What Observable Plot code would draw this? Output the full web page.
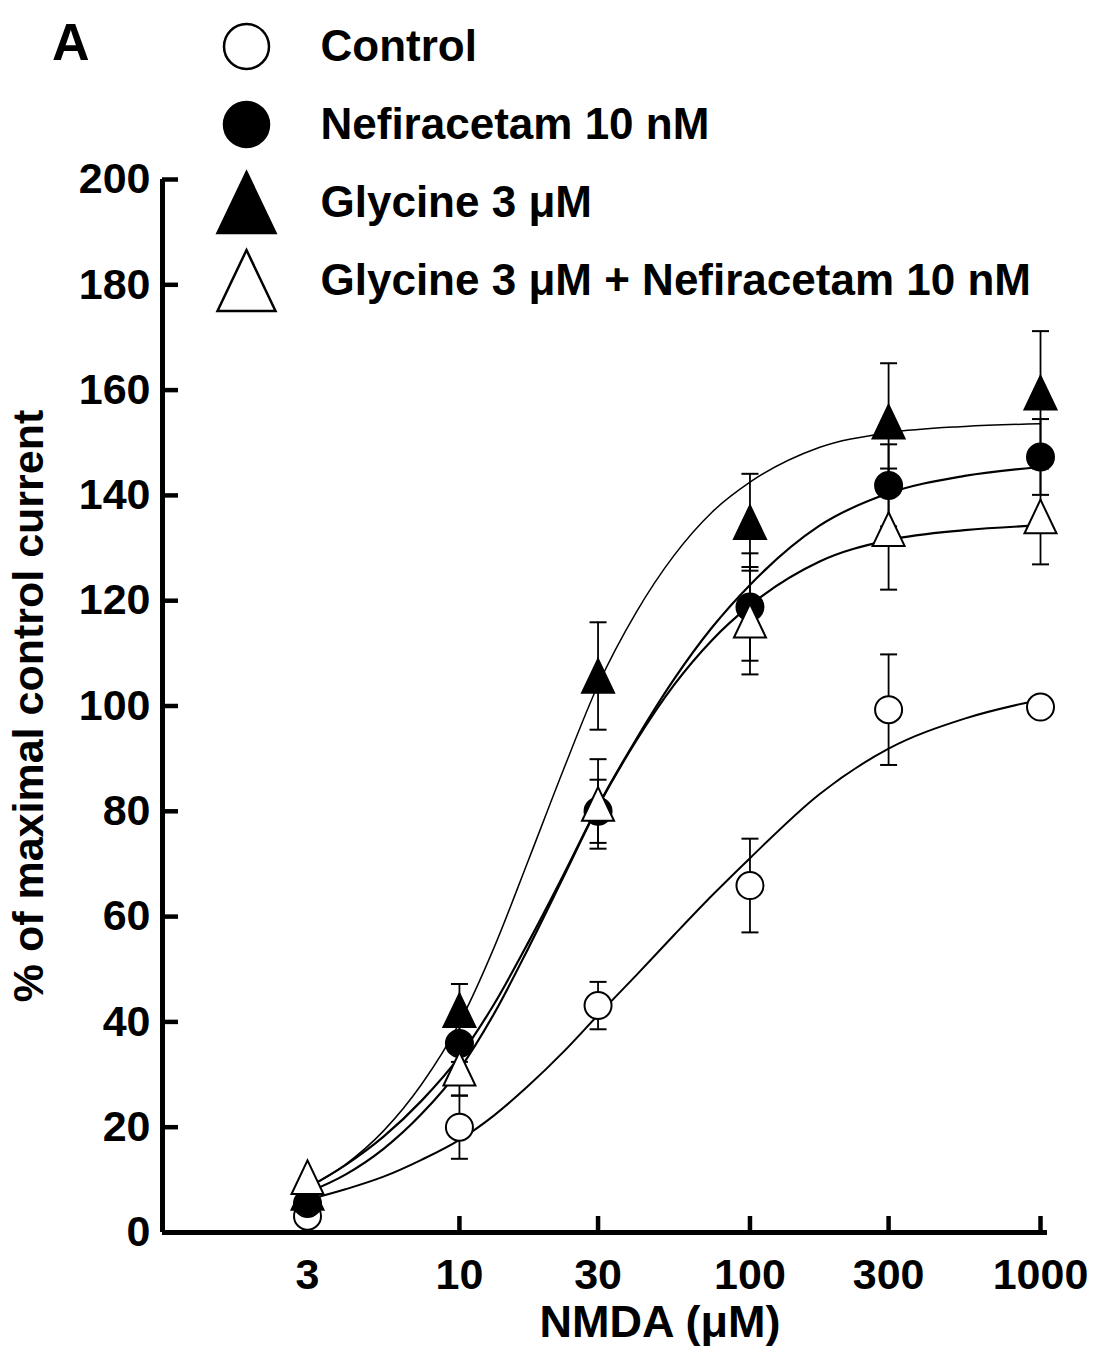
<!DOCTYPE html>
<html><head><meta charset="utf-8">
<script src="https://cdn.jsdelivr.net/npm/d3@7"></script>
<script src="https://cdn.jsdelivr.net/npm/@observablehq/plot@0.6"></script>
<style>
body{margin:0;background:#fff;}
#wrap{position:relative;width:1100px;height:1359px;overflow:hidden;font-family:"Liberation Sans",Arial,Helvetica,sans-serif;}
#panel{position:absolute;left:52px;top:16px;font-size:52px;font-weight:bold;line-height:1;color:#000;}
#legend{position:absolute;left:0;top:0;}
</style></head><body>
<div id="wrap"><div id="chart"></div><div id="legend"></div><div id="panel">A</div></div>
<script>
// ---- data ----
const conc = [3, 10, 30, 100, 300, 1000];
const seriesNames = ["Control", "Nefiracetam 10 nM", "Glycine 3 μM", "Glycine 3 μM + Nefiracetam 10 nM"];
const controlMean = [3.1, 20.0, 43.1, 65.9, 99.3, 99.8];
const controlErr  = [null, 6.0, 4.5, 8.9, 10.5, null];
const nefMean     = [5.5, 35.9, 80.0, 118.8, 141.9, 147.3];
const nefErr      = [null, 3.5, 6.0, 10.2, 7.8, 7.2];
const glyMean     = [7.5, 42.2, 105.7, 134.9, 154.0, 159.5];
const glyErr      = [null, 5.0, 10.2, 9.2, 11.1, 11.7];
const glyNefMean  = [10.5, 31.1, 81.4, 116.2, 133.6, 136.0];
const glyNefErr   = [null, 5.1, 8.5, 10.2, 11.5, 9.1];

// fitted curves
const fitConc    = [3, 4.05, 5.48, 7.4, 10, 13.2, 17.3, 22.8, 30, 40.5, 54.8, 74, 100, 173, 300, 548, 1000];
const controlFit = [6.2, 8.2, 10.6, 13.8, 17.6, 22.3, 27.9, 34.3, 41.3, 48.8, 56.5, 64.0, 71.1, 83.2, 91.9, 97.6, 101.2];
const nefFit     = [8.5, 12.8, 18.2, 25.0, 33.4, 43.5, 55.2, 67.9, 81.0, 93.6, 105.1, 114.9, 123.0, 134.2, 140.4, 143.7, 145.4];
const glyFit     = [8.5, 12.9, 19.3, 28.1, 39.8, 54.3, 70.8, 87.9, 104.0, 117.7, 128.6, 136.8, 142.5, 149.1, 151.9, 153.1, 153.6];
const glyNefFit  = [7.6, 11.0, 15.9, 22.5, 31.0, 41.7, 54.1, 67.5, 80.9, 93.3, 104.0, 112.5, 119.1, 127.4, 131.5, 133.4, 134.3];

const xTicks = [3, 10, 30, 100, 300, 1000];
const yTicks = [0, 20, 40, 60, 80, 100, 120, 140, 160, 180, 200];
const xLabel = "NMDA (μM)";
const yLabel = "% of maximal control current";

// ---- symbols ----
const tri = {draw(ctx, size) { const r = Math.sqrt(size / Math.PI); const h = r * 1.05; ctx.moveTo(0, -h); ctx.lineTo(r, h); ctx.lineTo(-r, h); ctx.closePath(); }};
const cap = {draw(ctx, size) { const r = Math.sqrt(size / Math.PI); ctx.moveTo(-r, 0); ctx.lineTo(r, 0); }};

const means = [controlMean, nefMean, glyMean, glyNefMean];
const errs = [controlErr, nefErr, glyErr, glyNefErr];
const fits = [controlFit, nefFit, glyFit, glyNefFit];
const styles = [
  {symbol: "circle", fill: "white", r: 13.5, lr: 22.5},
  {symbol: "circle", fill: "black", r: 13.5, lr: 22.5},
  {symbol: tri, fill: "black", r: 16, lr: 29},
  {symbol: tri, fill: "white", r: 16, lr: 29}
];
const fitWidth = [2, 2.2, 1.5, 2.2];

const points = seriesNames.flatMap((s, i) => conc.map((c, j) => ({series: s, i, x: c, y: means[i][j], e: errs[i][j]})));
const errRows = points.filter(d => d.e != null);
const capRows = errRows.flatMap(d => [{x: d.x, y: d.y - d.e}, {x: d.x, y: d.y + d.e}]);
const curveRows = seriesNames.flatMap((s, i) => fitConc.map((c, j) => ({series: s, i, x: c, y: fits[i][j]})));

const font = "'Liberation Sans', Arial, Helvetica, sans-serif";

const marks = [
  Plot.ruleX([0.9506], {stroke: "black", strokeWidth: 5}),
  Plot.ruleY([0], {stroke: "black", strokeWidth: 5}),
  Plot.tickY(yTicks, {y: d => d, stroke: "black", strokeWidth: 4.5, insetRight: 869}),
  Plot.tickX(xTicks.slice(1), {x: d => d, stroke: "black", strokeWidth: 4.5, insetTop: 1037}),
  Plot.ruleX(errRows, {x: "x", y1: d => d.y - d.e, y2: d => d.y + d.e, stroke: "black", strokeWidth: 1.8}),
  Plot.dot(capRows, {x: "x", y: "y", symbol: cap, r: 8.5, stroke: "black", strokeWidth: 2, fill: "none"})
];
[0, 3, 1, 2].forEach(i => {
  marks.push(Plot.line(curveRows.filter(d => d.i === i), {x: "x", y: "y", curve: "monotone-x", stroke: "black", strokeWidth: fitWidth[i]}));
});
[0, 1, 2, 3].forEach(i => {
  const st = styles[i];
  marks.push(Plot.dot(points.filter(d => d.i === i), {x: "x", y: "y", symbol: st.symbol, r: st.r, fill: st.fill, stroke: "black", strokeWidth: 2}));
});
marks.push(Plot.text([xLabel], {frameAnchor: "bottom", dx: 55, dy: 90, lineAnchor: "middle", fontSize: 45, fontWeight: "bold"}));

const chart = Plot.plot({
  width: 1100, height: 1359,
  marginLeft: 162, marginRight: 53, marginTop: 179, marginBottom: 127,
  style: {fontFamily: font, fontWeight: "bold", fontSize: "43px", color: "black", background: "white"},
  x: {type: "log", domain: [0.9506, 1057], ticks: xTicks, tickFormat: d => String(d), tickSize: 0, tickPadding: 26, label: null},
  y: {domain: [0, 200], ticks: yTicks, tickSize: 0, tickPadding: 12, label: yLabel, labelAnchor: "center", labelArrow: "none", labelOffset: 150},
  marks
});
document.getElementById("chart").appendChild(chart);

// ---- legend ----
const legend = Plot.plot({
  width: 1100, height: 330,
  marginLeft: 246, marginRight: 0, marginTop: 0, marginBottom: 0,
  style: {fontFamily: font, fontWeight: "bold", fontSize: "44px", color: "black", background: "transparent"},
  y: {type: "point", domain: seriesNames, range: [46, 280], padding: 0, axis: null},
  marks: [
    ...seriesNames.map((s, i) => Plot.dot([s], {y: d => d, frameAnchor: "left", symbol: styles[i].symbol, r: styles[i].lr, fill: styles[i].fill, stroke: "black", strokeWidth: 2.5})),
    Plot.text(seriesNames, {y: d => d, text: d => d, frameAnchor: "left", dx: 74, textAnchor: "start"})
  ]
});
document.getElementById("legend").appendChild(legend);
</script></body></html>
